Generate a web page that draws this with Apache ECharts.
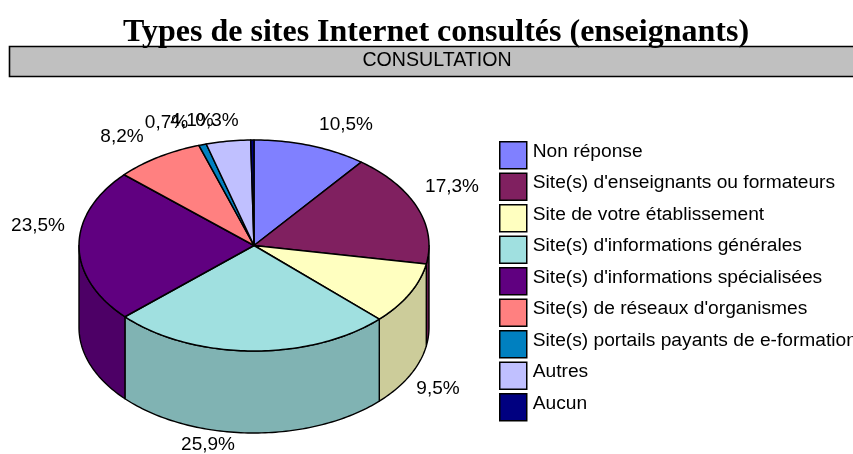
<!DOCTYPE html>
<html><head><meta charset="utf-8">
<style>html,body{margin:0;padding:0;background:#fff}#c{width:853px;height:454px}</style>
<script src="https://cdn.jsdelivr.net/npm/echarts@6/dist/echarts.min.js"></script>
</head><body><div id="c"></div>
<script>
const categories = ["Non réponse","Site(s) d'enseignants ou formateurs","Site de votre établissement","Site(s) d'informations générales","Site(s) d'informations spécialisées","Site(s) de réseaux d'organismes","Site(s) portails payants de e-formation","Autres","Aucun"];
const values = [10.5,17.3,9.5,25.9,23.5,8.2,0.7,4.1,0.3];
const labels = ["10,5%","17,3%","9,5%","25,9%","23,5%","8,2%","0,7%","4,1%","0,3%"];
const topColors = ["#8080FF","#802060","#FFFFC0","#A0E0E0","#600080","#FF8080","#0080C0","#C0C0FF","#000080"];
const sideColors = ["#6666CC","#661A4D","#CCCC9A","#80B3B3","#4D0066","#CC6666","#00669A","#9A9ACC","#000066"];

const CX=254, CY=245.5, RX=175, RY=105.5, DEPTH=82;
const labelCenters = [[346,125],[452,187],[438,389],[208,445],[38,226],[122,137],[166.5,123],[192,121],[217,121]];
const total = values.reduce((a,b)=>a+b,0);
const pt = (t,dy)=>[CX+RX*Math.sin(t), CY+RY*-Math.cos(t)+(dy||0)];
function arc(a0,a1,dy){const n=Math.max(2,Math.ceil((a1-a0)/0.02));const r=[];for(let i=0;i<=n;i++){r.push(pt(a0+(a1-a0)*i/n,dy));}return r;}

function makeRender(idx){
  return function(params,api){
    const before = values.slice(0,idx).reduce((a,b)=>a+b,0);
    const a0 = before/total*2*Math.PI;
    const a1 = a0 + api.value(0)/total*2*Math.PI;
    const children=[];
    const w0=Math.max(a0,Math.PI/2), w1=Math.min(a1,Math.PI*1.5);
    if(w1>w0){
      const top=arc(w0,w1,0), bot=arc(w0,w1,DEPTH).reverse();
      children.push({type:'polygon',z2:1+idx,shape:{points:top.concat(bot)},style:{fill:sideColors[idx],stroke:'#000',lineWidth:1.4,lineJoin:'round'}});
    }
    children.push({type:'polygon',z2:20+idx,shape:{points:[[CX,CY]].concat(arc(a0,a1,0))},style:{fill:topColors[idx],stroke:'#000',lineWidth:1.5,lineJoin:'round'}});
    children.push({type:'text',z2:40+idx,style:{text:labels[idx],x:labelCenters[idx][0],y:labelCenters[idx][1],align:'center',verticalAlign:'middle',font:'19px "Liberation Sans"',fill:'#000'}});
    return {type:'group',children};
  };
}

const series = categories.map((name,i)=>({
  type:'custom',name,coordinateSystem:'none',silent:true,animation:false,
  itemStyle:{color:topColors[i]},
  data:[[values[i]]],
  renderItem:makeRender(i)
}));

const chart = echarts.init(document.getElementById('c'),null,{renderer:'canvas'});
chart.setOption({
  backgroundColor:'#fff',animation:false,
  title:{text:'Types de sites Internet consultés (enseignants)',left:123,top:17,padding:0,
    textStyle:{fontFamily:'Liberation Serif',fontWeight:'bold',fontSize:32,color:'#000'}},
  legend:{orient:'vertical',left:499,top:141,padding:0,itemWidth:27,itemHeight:27,itemGap:3,
    icon:'rect',selectedMode:false,
    itemStyle:{borderColor:'#000',borderWidth:1.5},
    formatter:name=>'{a|'+name+'}',
    textStyle:{rich:{a:{fontFamily:'Liberation Sans',fontSize:19.2,color:'#000',height:18,padding:[0,0,8,1]}}},
    data:categories},
  graphic:[
    {type:'rect',z:0,shape:{x:9.5,y:46.5,width:860,height:30},style:{fill:'#C0C0C0',stroke:'#000',lineWidth:1.6}},
    {type:'text',z:1,style:{text:'CONSULTATION',x:437,y:61,align:'center',verticalAlign:'middle',font:'19.6px "Liberation Sans"',fill:'#000'}}
  ],
  series
});
</script></body></html>
